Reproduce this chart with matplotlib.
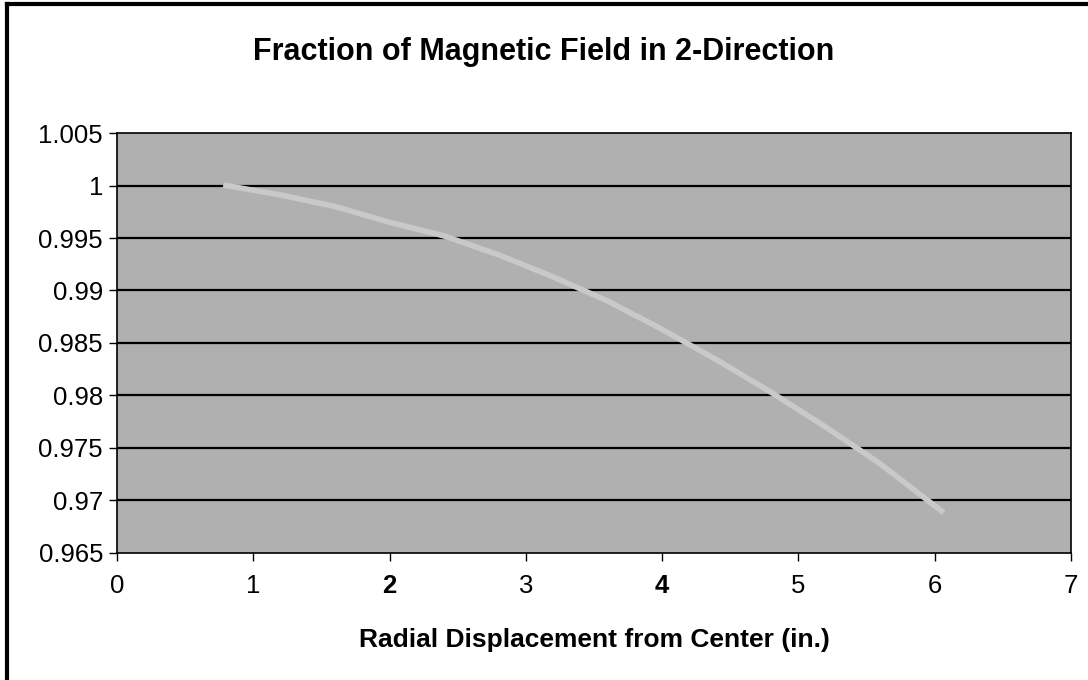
import matplotlib
matplotlib.use("Agg")
import matplotlib.pyplot as plt
from matplotlib.lines import Line2D

plt.rcParams['font.family'] = ['Liberation Sans', 'DejaVu Sans']

# radial displacement (in.) and field fraction
radius = [0.8, 1.2, 1.6, 2.0, 2.4, 2.8, 3.2, 3.6, 4.0, 4.4, 4.8, 5.2, 5.6, 6.05]
fraction = [1.0, 0.9991, 0.9980, 0.9965, 0.9952, 0.9934, 0.9913, 0.9890,
            0.9863, 0.9834, 0.9803, 0.9770, 0.9735, 0.9690]

yticks = [0.965, 0.97, 0.975, 0.98, 0.985, 0.99, 0.995, 1.0, 1.005]
ylabels = ['0.965', '0.97', '0.975', '0.98', '0.985', '0.99', '0.995', '1', '1.005']
xticks = [0, 1, 2, 3, 4, 5, 6, 7]

fig = plt.figure(figsize=(10.88, 6.8), dpi=100)
ax = fig.add_axes([0.1075, 0.1868, 0.8768, 0.6176])
ax.set_facecolor('#b0b0b0')

for yv in yticks[1:-1]:
    ax.axhline(yv, color='black', lw=1.6, zorder=1)

ax.plot(radius, fraction, color='#c9c9c9', lw=4, zorder=2)

ax.set_xlim(0, 7)
ax.set_ylim(0.965, 1.005)
ax.set_xticks(xticks)
ax.set_xticklabels([str(v) for v in xticks], fontsize=18.5)
for lab in ax.get_xticklabels():
    if lab.get_text() in ('2', '4'):
        lab.set_fontweight('bold')
ax.set_yticks(yticks)
ax.set_yticklabels(ylabels, fontsize=18.5)
ax.tick_params(axis='x', direction='out', length=6, width=1, pad=9)
ax.tick_params(axis='y', direction='out', length=6, width=1, pad=4)
for s in ax.spines.values():
    s.set_color('black')
    s.set_linewidth(1.2)

fig.text(0.5, 0.924, 'Fraction of Magnetic Field in 2-Direction',
         ha='center', va='center', fontsize=22, fontweight='bold')
ax.set_xlabel('Radial Displacement from Center (in.)', fontsize=19,
              fontweight='bold', labelpad=22)

# outer frame: top and left edges
fig.add_artist(Line2D([0.006, 1.0], [0.994, 0.994], transform=fig.transFigure,
                      color='black', lw=3))
fig.add_artist(Line2D([0.006, 0.006], [0.0, 0.994], transform=fig.transFigure,
                      color='black', lw=3))

fig.savefig('out.png', dpi=100)
